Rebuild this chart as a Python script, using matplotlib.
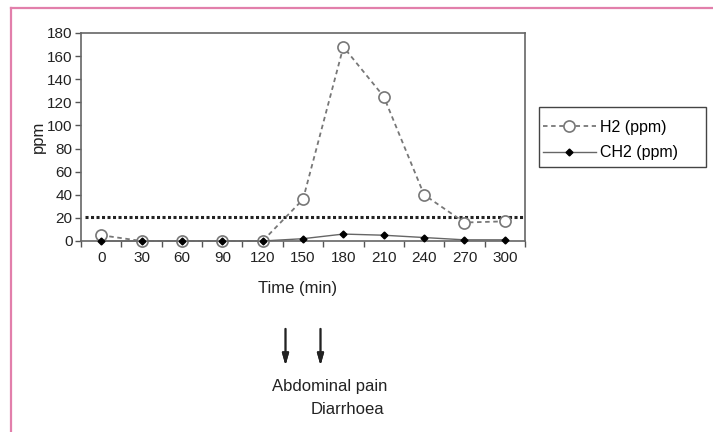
import matplotlib.pyplot as plt
import numpy as np
from matplotlib.lines import Line2D
from matplotlib.patches import Rectangle

plt.rcParams['font.family'] = ['Liberation Sans', 'DejaVu Sans']

times = ["0", "30", "60", "90", "120", "150", "180", "210", "240", "270", "300"]
h2 = [5, 0, 0, 0, 0, 36, 168, 125, 40, 16, 17]
ch2 = [0, 0, 0, 0, 0, 2, 6, 5, 3, 1, 1]
cutoff = 21

W, H = 713, 432
fig = plt.figure(figsize=(W / 100, H / 100), dpi=100)
fig.patch.set_facecolor("white")

# pink frame (top and left edges only visible)
PINK = "#e27fab"
fig.add_artist(Line2D([11 / W, 1], [1 - 8 / H, 1 - 8 / H], color=PINK, lw=1.6, transform=fig.transFigure))
fig.add_artist(Line2D([11 / W, 11 / W], [0, 1 - 8 / H], color=PINK, lw=1.6, transform=fig.transFigure))

ax = fig.add_axes([81 / W, 1 - 241 / H, 444 / W, 208 / H])
x = np.arange(len(times))

ax.axhline(cutoff, xmin=0.01, xmax=0.995, color="#222222", lw=2.2, ls=(0, (1, 0.8)), zorder=2)
ax.plot(x, h2, color="#777777", lw=1.3, ls=(0, (2.5, 2)), marker="o", ms=8,
        mfc="white", mec="#777777", mew=1.2, label="H2 (ppm)", zorder=3, clip_on=False)
ax.plot(x, ch2, color="#666666", lw=1.0, marker="D", ms=3.5, mfc="black", mec="black",
        label="CH2 (ppm)", zorder=4, clip_on=False)

ax.set_xlim(-0.5, len(times) - 0.5)
ax.set_ylim(0, 180)
ax.set_yticks(range(0, 181, 20))
ax.set_xticks(x)
ax.set_xticklabels(times)
ax.set_xticks(np.arange(-0.5, len(times), 1), minor=True)
ax.tick_params(axis="x", which="major", length=0, pad=7, labelsize=11, colors="#222222")
ax.tick_params(axis="x", which="minor", length=4, width=1, color="#555555", direction="out")
ax.tick_params(axis="y", length=4, width=1, color="#555555", labelsize=11, labelcolor="#222222", pad=2)
for s in ax.spines.values():
    s.set_color("#666666")
    s.set_linewidth(1.2)
ax.set_ylabel("ppm", fontsize=12, color="#222222", labelpad=1)

fig.text(298 / W, 1 - 288 / H, "Time (min)", ha="center", va="center", fontsize=12, color="#222222")

for xp in (285.5, 320.5):
    fig.add_artist(plt.annotate("", xy=(xp / W, 1 - 368 / H), xytext=(xp / W, 1 - 326 / H),
                                xycoords="figure fraction",
                                arrowprops=dict(arrowstyle="-|>,head_length=0.7,head_width=0.2",
                                                color="#222222", lw=1.3)))
fig.text(330 / W, 1 - 387 / H, "Abdominal pain", ha="center", va="center", fontsize=12, color="#222222")
fig.text(347 / W, 1 - 409 / H, "Diarrhoea", ha="center", va="center", fontsize=12, color="#222222")

# legend frame drawn separately (wide right margin like the original)
fig.add_artist(Rectangle((539 / W, 1 - 167 / H), 167 / W, 60 / H, transform=fig.transFigure,
                         fill=False, edgecolor="#444444", lw=1.0))
leg = fig.legend(loc="upper left", bbox_to_anchor=(543 / W, 1 - 120 / H), fontsize=11.5,
                 frameon=False, handlelength=3.3, borderpad=0, labelspacing=0.65,
                 handletextpad=0.3, borderaxespad=0)

fig.savefig("out.png", dpi=100, facecolor="white")
